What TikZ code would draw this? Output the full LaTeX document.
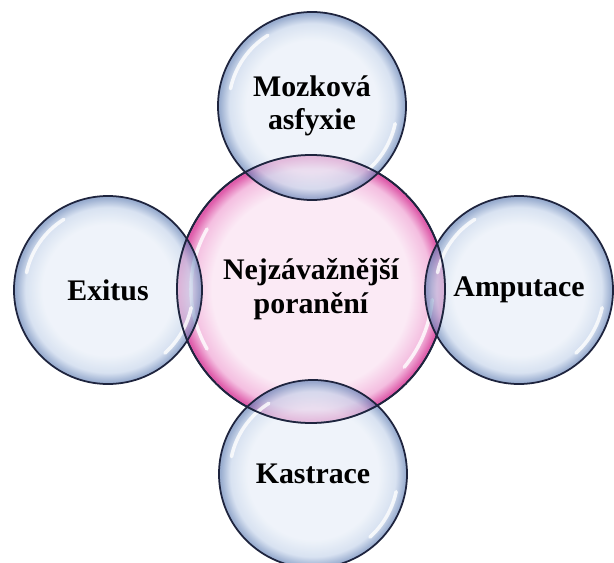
\documentclass[tikz,border=0pt]{standalone}
\usepackage{fontspec}
\setmainfont{Liberation Serif}
\usepackage{tikz}

\definecolor{bubbleinner}{RGB}{230,237,247}
\definecolor{bubblemid}{RGB}{196,211,234}
\definecolor{bubbleouter}{RGB}{100,130,182}
\definecolor{pinkinner}{RGB}{251,234,245}
\definecolor{pinkmid}{RGB}{244,190,224}
\definecolor{pinkouter}{RGB}{222,92,170}
\definecolor{rimline}{RGB}{30,36,62}

\pgfdeclareradialshading{bubbleblue}{\pgfpoint{0bp}{0bp}}{color(0bp)=(bubbleinner); color(17.5bp)=(bubbleinner); color(22bp)=(bubblemid); color(24.6bp)=(bubbleouter); color(50bp)=(bubbleouter)}
\pgfdeclareradialshading{bubblepink}{\pgfpoint{0bp}{0bp}}{color(0bp)=(pinkinner); color(18.5bp)=(pinkinner); color(22.5bp)=(pinkmid); color(24.6bp)=(pinkouter); color(50bp)=(pinkouter)}

\tikzset{
	label font/.style={font=\bfseries\fontsize{25.5}{28.5}\selectfont, align=center},
	satellite/.style={circle, minimum size=5.64cm, inner sep=0pt, shading=bubbleblue, fill opacity=0.66, text opacity=1, draw=rimline, draw opacity=1, line width=1.5pt, label font},
	core/.style={circle, minimum size=8.04cm, inner sep=0pt, shading=bubblepink, draw=rimline, line width=1.5pt, label font},
	gloss/.style={white, opacity=0.8, line width=3pt, line cap=round}
}

\begin{document}
\begin{tikzpicture}[x=0.03cm, y=-0.03cm]
		\useasboundingbox (0,0) rectangle (614,563);
		
		\coordinate (c) at (311,289);
		\coordinate (t) at (312,106);
		\coordinate (l) at (108,290);
		\coordinate (r) at (519,290);
		\coordinate (b) at (313,474);
		
		% central bubble
		\node[core] (core) at (c) {Nejzávažnější\\poranění};
		\draw[gloss] ([shift={(150:3.6cm)}]core.center) arc[start angle=150, end angle=210, radius=3.6cm];
		\draw[gloss] ([shift={(-40:3.65cm)}]core.center) arc[start angle=-40, end angle=-5, radius=3.65cm];
		
		% outer bubbles
		\node[satellite] (brain) at (t) {Mozková\\asfyxie};
		\node[satellite] (death) at (l) {Exitus};
		\node[satellite] (amput) at (r) {Amputace};
		\node[satellite] (castr) at (b) {Kastrace};
		
		\foreach \n in {brain,death,amput,castr}{
			\draw[gloss] ([shift={(122:2.5cm)}]\n.center) arc[start angle=122, end angle=168, radius=2.5cm];
			\draw[gloss] ([shift={(-48:2.55cm)}]\n.center) arc[start angle=-48, end angle=-12, radius=2.55cm];
		}
		
		% rim of the central bubble again, over the overlaps
		\draw[rimline, line width=1.5pt] (core.center) circle[radius=4.02cm];
\end{tikzpicture}
\end{document}
